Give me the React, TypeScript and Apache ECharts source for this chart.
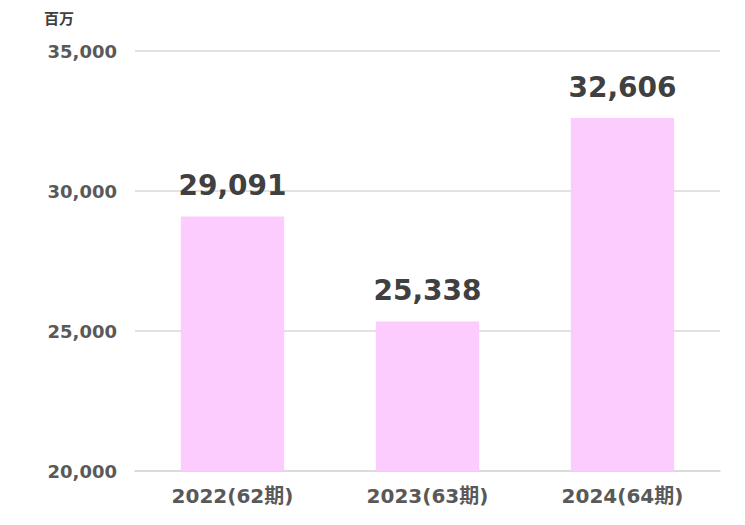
import React, { useEffect, useRef } from "react";
import * as echarts from "echarts";

const categories = ["2022(62期)", "2023(63期)", "2024(64期)"];
const sales = [29091, 25338, 32606];
const unitLabel = "百万";

const FONT = '"DejaVu Sans", "Noto Sans CJK JP", sans-serif';

const App: React.FC = () => {
  const chartRef = useRef<HTMLDivElement>(null);

  useEffect(() => {
    if (!chartRef.current) return;
    const chart = echarts.init(chartRef.current, undefined, { renderer: "svg" });

    chart.setOption({
      animation: false,
      textStyle: { fontFamily: FONT },
      grid: { left: 135, right: 25, top: 51, bottom: 54, containLabel: false },
      graphic: [
        {
          type: "text",
          left: 44,
          top: 11,
          style: {
            text: unitLabel,
            fontSize: 15,
            fontWeight: "bold",
            fill: "#404040",
            fontFamily: FONT,
          },
        },
      ],
      xAxis: {
        type: "category",
        data: categories,
        axisLine: { lineStyle: { color: "#d9d9d9", width: 1.5 } },
        axisTick: { show: false },
        axisLabel: {
          color: "#595959",
          fontSize: 20,
          fontWeight: "bold",
          margin: 15,
          fontFamily: FONT,
        },
      },
      yAxis: {
        type: "value",
        min: 20000,
        max: 35000,
        interval: 5000,
        axisLine: { show: false },
        axisTick: { show: false },
        splitLine: { lineStyle: { color: "#d9d9d9", width: 1.5 } },
        axisLabel: {
          color: "#595959",
          fontSize: 18,
          fontWeight: "bold",
          margin: 18,
          fontFamily: FONT,
          formatter: (v: number) => v.toLocaleString("en-US"),
        },
      },
      series: [
        {
          type: "bar",
          data: sales,
          barWidth: "53%",
          itemStyle: { color: "#FCCCFF" },
          label: {
            show: true,
            position: "top",
            distance: 17,
            color: "#404040",
            fontSize: 28,
            fontWeight: "bold",
            fontFamily: FONT,
            formatter: (p: any) => Number(p.value).toLocaleString("en-US"),
          },
        },
      ],
    });

    return () => {
      chart.dispose();
    };
  }, []);

  return <div ref={chartRef} style={{ width: 745, height: 525, margin: -8 }} />;
};

export default App;
